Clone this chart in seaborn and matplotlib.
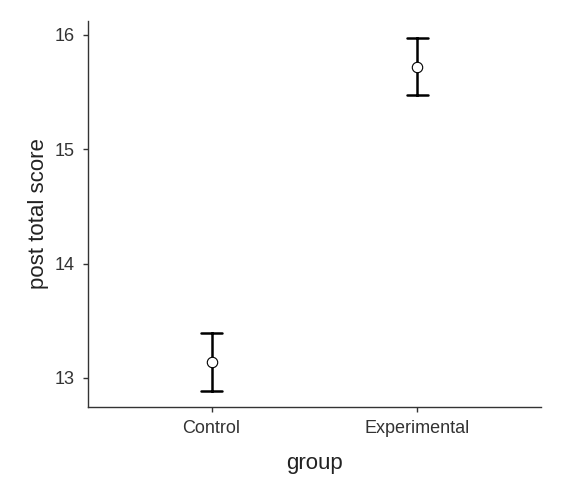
import pandas as pd
import matplotlib.pyplot as plt
import seaborn as sns

# group means with lower / upper ends of the error bars
groups = ["Control", "Experimental"]
means = [13.14, 15.72]
lower = [12.89, 15.47]
upper = [13.39, 15.97]

sns.set_theme(style="ticks")
plt.rcParams['font.family'] = ['Liberation Sans', 'DejaVu Sans']

# three rows per group so the library draws the point and the interval itself
rows = []
for g, lo, m, hi in zip(groups, lower, means, upper):
    for v in (lo, m, hi):
        rows.append({"group": g, "score": v})
df = pd.DataFrame(rows)

fig = plt.figure(figsize=(5.63, 4.93), dpi=100)
ax = fig.add_axes([0.1563, 0.1744, 0.8047, 0.783])

sns.pointplot(data=df, x="group", y="score", estimator="median",
              errorbar=lambda v: (v.min(), v.max()), linestyle="none",
              color="black", capsize=0.1, err_kws={"linewidth": 1.8},
              markers="o", markersize=7.5, ax=ax)

# white-filled markers sitting on top of the error bars
for ln in ax.lines:
    if ln.get_marker() == "o":
        ln.set_markerfacecolor("white")
        ln.set_markeredgecolor("black")
        ln.set_markeredgewidth(0.8)
        ln.set_zorder(5)

ax.set_xlim(-0.6, 1.6)
ax.set_ylim(12.746, 16.12)
ax.set_yticks([13, 14, 15, 16])
ax.set_xlabel("group", fontsize=16, color="#222222", labelpad=12)
ax.set_ylabel("post total score", fontsize=16, color="#222222", labelpad=4)
ax.tick_params(labelsize=13, labelcolor="#333333", color="#333333", length=3.6, width=1, pad=5.5)
ax.tick_params(axis="y", pad=6)
for s in ["left", "bottom"]:
    ax.spines[s].set_color("#333333")
    ax.spines[s].set_linewidth(1)
sns.despine(ax=ax)

fig.savefig("out.png", dpi=100)
